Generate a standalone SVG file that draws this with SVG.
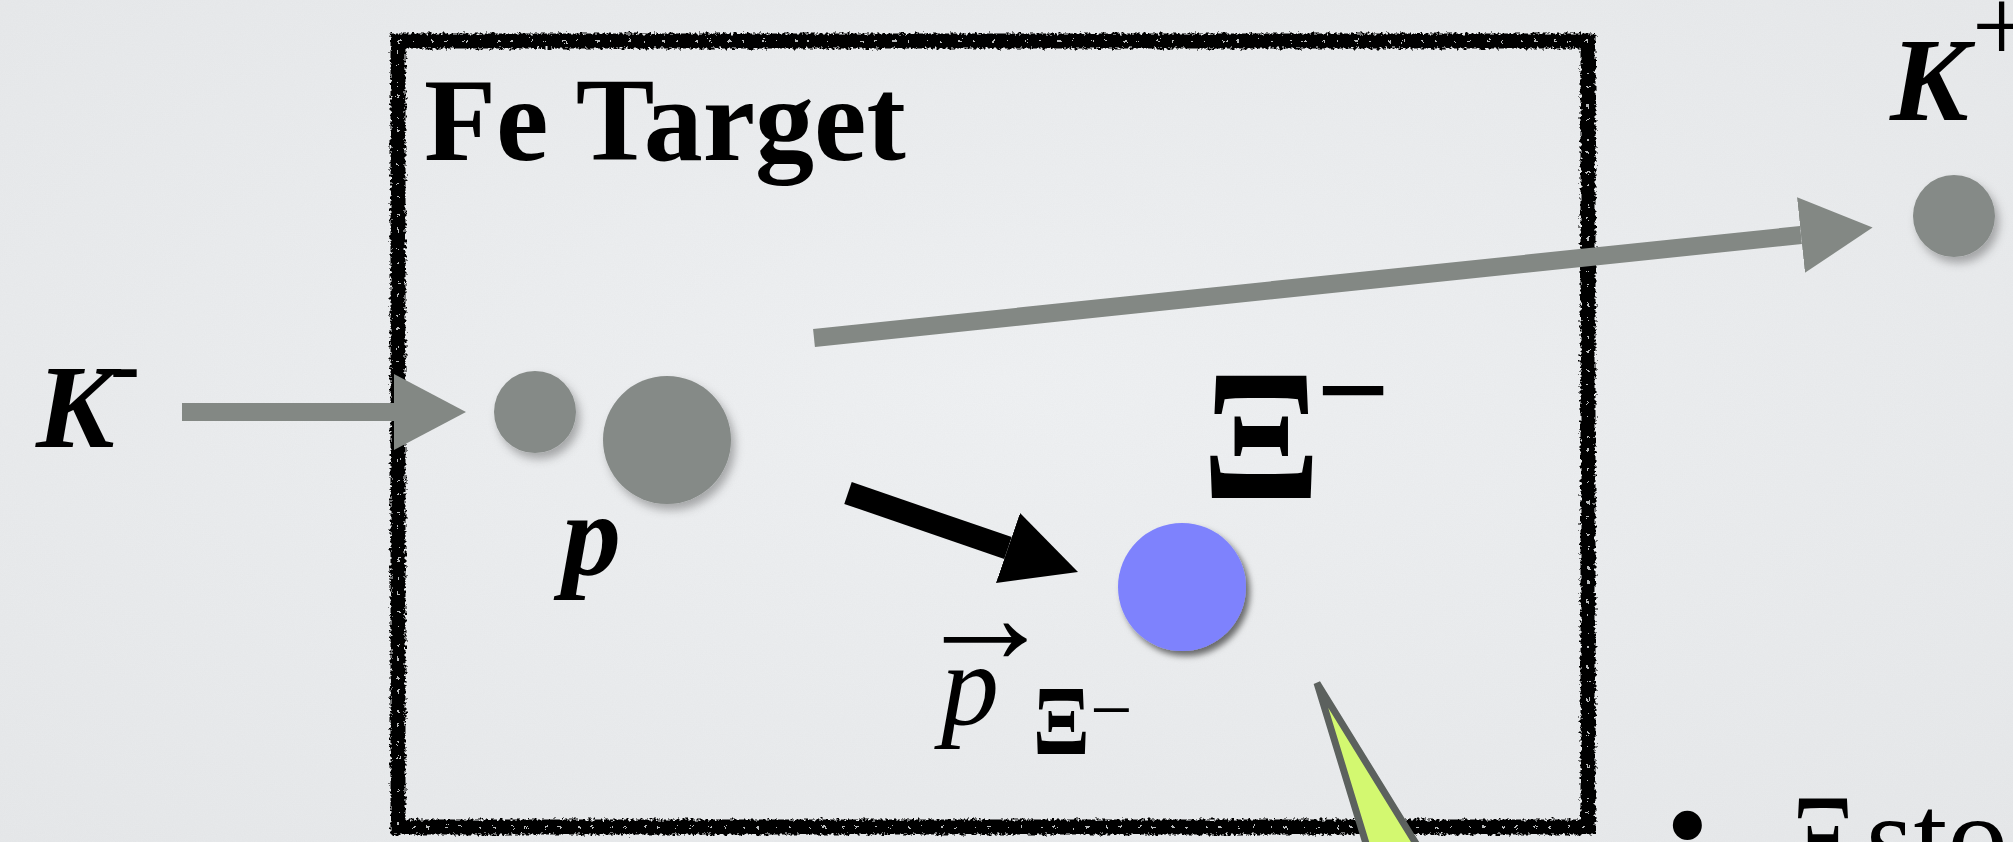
<svg xmlns="http://www.w3.org/2000/svg" width="2013" height="842" viewBox="0 0 2013 842">
  <defs>
    <radialGradient id="bg" cx="50%" cy="45%" r="75%">
      <stop offset="0" stop-color="#eff1f3"/>
      <stop offset="1" stop-color="#e6e8ea"/>
    </radialGradient>
    <filter id="noise" x="0" y="0" width="100%" height="100%">
      <feTurbulence type="fractalNoise" baseFrequency="0.9" numOctaves="2" seed="7"/>
      <feColorMatrix type="matrix" values="0 0 0 0 0.5  0 0 0 0 0.5  0 0 0 0 0.5  0 0 0 0.08 0"/>
    </filter>
    <filter id="rough" x="-3%" y="-3%" width="106%" height="106%">
      <feTurbulence type="fractalNoise" baseFrequency="0.35" numOctaves="2" seed="3" result="n"/>
      <feDisplacementMap in="SourceGraphic" in2="n" scale="7" xChannelSelector="R" yChannelSelector="G"/>
    </filter>
    <filter id="softShadow" x="-40%" y="-40%" width="180%" height="180%">
      <feDropShadow dx="4" dy="6" stdDeviation="5" flood-color="#000" flood-opacity="0.3"/>
    </filter>
    <filter id="blueShadow" x="-30%" y="-30%" width="160%" height="160%">
      <feDropShadow dx="4" dy="5" stdDeviation="3" flood-color="#000" flood-opacity="0.55"/>
    </filter>
    <marker id="headGray" viewBox="0 0 72 76" refX="0" refY="38" markerWidth="72" markerHeight="76" markerUnits="userSpaceOnUse" orient="auto">
      <path d="M0,0 L72,38 L0,76 Z" fill="#838884"/>
    </marker>
    <marker id="headBlack" viewBox="0 0 74 74" refX="0" refY="37" markerWidth="74" markerHeight="74" markerUnits="userSpaceOnUse" orient="auto">
      <path d="M0,0 L74,37 L0,74 Z" fill="#000"/>
    </marker>
    <style>
      .serif { font-family: "Liberation Serif", "Times New Roman", serif; fill: #000; }
      .b { font-weight: bold; }
      .bi { font-weight: bold; font-style: italic; }
      .i { font-style: italic; }
      .gray { fill: #858a87; }
      .grayArrow { stroke: #838884; stroke-width: 18; fill: none; }
      .blackArrow { stroke: #000; stroke-width: 23; fill: none; }
    </style>
  </defs>

  <g id="background">
    <rect width="2013" height="842" fill="url(#bg)"/>
    <rect width="2013" height="842" filter="url(#noise)"/>
  </g>

  <g id="fe-target">
    <rect x="398" y="41" width="1190" height="786" fill="none" stroke="#000" stroke-width="15" filter="url(#rough)"/>
    <rect x="398" y="41" width="1190" height="786" fill="none" stroke="#e8eaec" stroke-width="2" stroke-dasharray="3 11 2 17" opacity="0.8" filter="url(#rough)"/>
    <text class="serif b" x="424" y="160" font-size="118">Fe Target</text>
  </g>

  <g id="connectors">
    <line class="grayArrow" x1="182" y1="412" x2="394" y2="412" marker-end="url(#headGray)"/>
    <line class="grayArrow" x1="814" y1="338" x2="1801" y2="235" marker-end="url(#headGray)"/>
    <line class="blackArrow" x1="848" y1="493" x2="1008" y2="548" marker-end="url(#headBlack)"/>
  </g>

  <g id="k-minus">
    <text class="serif bi" x="36" y="447" font-size="118">K</text>
    <text class="serif b" x="110" y="395" font-size="90">-</text>
  </g>

  <g id="k-minus-particle">
    <circle class="gray" cx="535" cy="412" r="41" filter="url(#softShadow)"/>
  </g>

  <g id="proton">
    <circle class="gray" cx="667" cy="440" r="64" filter="url(#softShadow)"/>
    <text class="serif bi" x="562" y="575" font-size="118">p</text>
  </g>

  <g id="k-plus">
    <text class="serif bi" x="1890" y="120" font-size="118">K</text>
    <text class="serif" x="1972" y="62" font-size="105">+</text>
    <circle class="gray" cx="1954" cy="216" r="41" filter="url(#softShadow)"/>
  </g>

  <g id="xi-minus">
    <text class="serif b" font-size="175" transform="translate(1202,498) scale(1,1.06)"><tspan x="0" y="0">Ξ</tspan></text>
    <text class="serif b" x="1316" y="434" font-size="130">−</text>
    <circle cx="1182" cy="587" r="64" fill="#7e82fd" filter="url(#blueShadow)"/>
  </g>

  <g id="momentum-label">
    <text class="serif" x="915" y="663" font-size="140">→</text>
    <text class="serif i" x="941" y="724" font-size="116">p</text>
    <text class="serif b" font-size="88" transform="translate(1033,754) scale(0.95,1.12)">Ξ</text>
    <text class="serif" x="1090" y="735" font-size="75">−</text>
  </g>

  <g id="callout">
    <polygon points="1317,683 1368,850 1420,850" fill="#d3f870" stroke="#5c615e" stroke-width="7" stroke-linejoin="miter"/>
  </g>

  <g id="bullet-text">
    <text class="serif" font-size="122"><tspan x="1666" y="866">•</tspan><tspan x="1790" y="879" textLength="66" lengthAdjust="spacingAndGlyphs">Ξ</tspan><tspan x="1866" y="879">sto</tspan></text>
  </g>
</svg>
